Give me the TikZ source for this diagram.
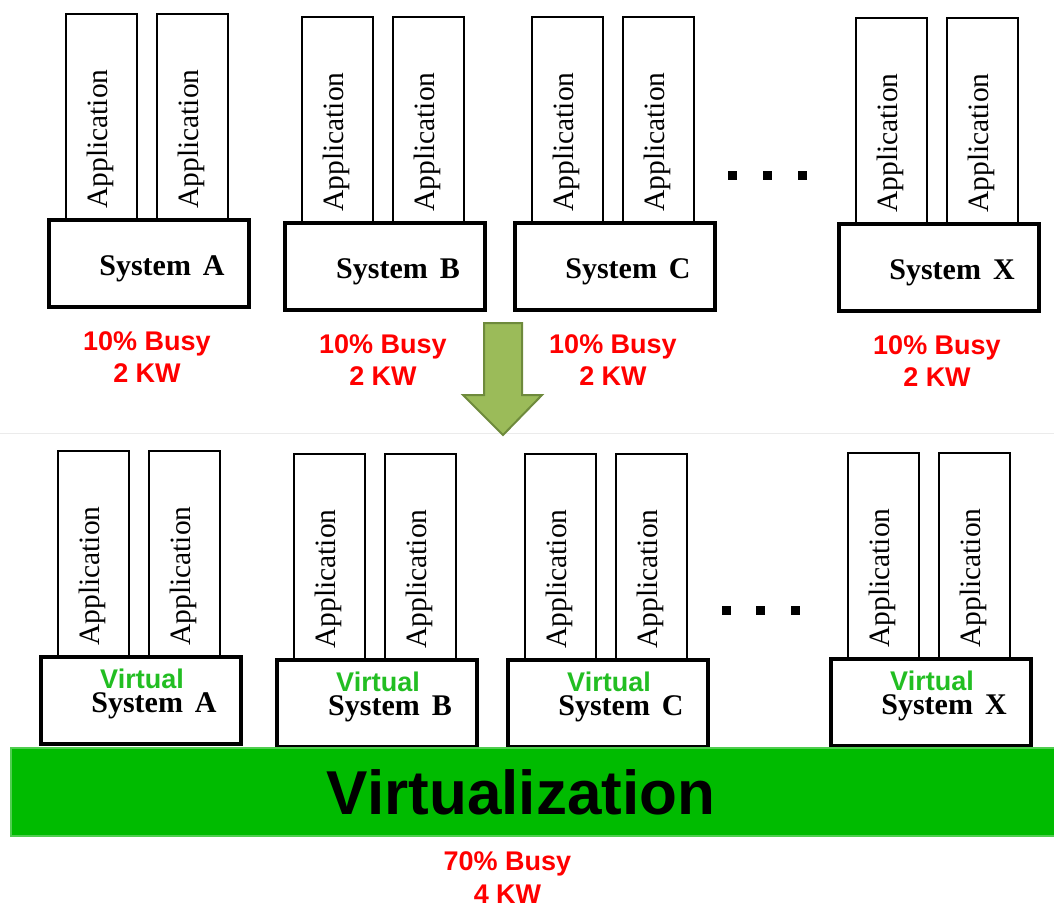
\documentclass[tikz,border=0pt]{standalone}
\usepackage{fontspec}
\setmainfont{Liberation Serif}
\setsansfont{Liberation Sans}
\usetikzlibrary{positioning}

\definecolor{busyred}{RGB}{255,0,0}
\definecolor{virtgreen}{RGB}{34,190,34}
\definecolor{barfill}{RGB}{0,187,0}
\definecolor{barline}{RGB}{80,205,80}
\definecolor{arrowfill}{RGB}{155,187,89}
\definecolor{arrowline}{RGB}{110,138,60}

\newcommand{\sysname}[1]{System\hskip 12pt #1}

\tikzset{
  sysbox/.style={draw, line width=3.5pt, minimum width=200pt, minimum height=87pt, inner sep=0pt, outer sep=0pt, anchor=north west},
  appbox/.style={draw, line width=2.2pt, minimum width=71pt, minimum height=206pt, inner sep=0pt, outer sep=0pt},
  apptext/.style={rotate=90, font=\fontsize{29.5}{32}\selectfont},
  systext/.style={anchor=base, inner sep=0pt, font=\bfseries\fontsize{30}{34}\selectfont},
  virtword/.style={anchor=base, inner sep=0pt, text=virtgreen, font=\sffamily\bfseries\fontsize{27}{30}\selectfont},
  busytext/.style={anchor=north, align=center, inner sep=0pt, text=busyred, font=\sffamily\bfseries\fontsize{27}{32}\selectfont},
}

\begin{document}
\begin{tikzpicture}[x=1pt, y=-1pt]
\useasboundingbox (0,0) rectangle (1054,906);

% physical servers
\foreach \s/\bx/\by in {A/49/220, B/285/223, C/515/223, X/839/224} {
  \node[sysbox] (sys\s) at (\bx,\by) {};
  \node[appbox, above right=0pt and 17pt of sys\s.north west] (app\s1) {};
  \node[appbox, above right=0pt and 108pt of sys\s.north west] (app\s2) {};
  \node[apptext] (apptxt\s1) at ([xshift=-1pt,yshift=-22pt]app\s1.center) {Application};
  \node[apptext] (apptxt\s2) at ([xshift=-1pt,yshift=-22pt]app\s2.center) {Application};
  \node[systext] (lbl\s) at ([xshift=13pt,yshift=-11.5pt]sys\s.center) {\sysname{\s}};
  \node[busytext] (load\s) at ([xshift=-2pt,yshift=-24pt]sys\s.south) {10\% Busy\\2 KW};
}
\foreach \x in {732,767,802}
  \fill (\x-4.5,170.5) rectangle ++(9,9);

% separator and arrow
\draw[black!8, line width=1pt] (0,433) -- (1054,433);
\draw[draw=arrowline, fill=arrowfill, line width=2pt] (484,323) -- (522,323) -- (522,395) -- (542,395)
  -- (503,435) -- (463,395) -- (484,395) -- cycle;

% virtual servers
\foreach \s/\bx/\by in {A/41/657, B/277/660, C/508/660, X/831/659} {
  \node[sysbox] (vsys\s) at (\bx,\by) {};
  \node[appbox, above right=0pt and 17pt of vsys\s.north west] (vapp\s1) {};
  \node[appbox, above right=0pt and 108pt of vsys\s.north west] (vapp\s2) {};
  \node[apptext] (vapptxt\s1) at ([xshift=-1pt,yshift=-22pt]vapp\s1.center) {Application};
  \node[apptext] (vapptxt\s2) at ([xshift=-1pt,yshift=-22pt]vapp\s2.center) {Application};
  \node[virtword] (virt\s) at ([xshift=1pt,yshift=12.5pt]vsys\s.center) {Virtual};
  \node[systext] (vlbl\s) at ([xshift=13pt,yshift=-12pt]vsys\s.center) {\sysname{\s}};
}
\foreach \x in {726,760,795}
  \fill (\x-4.5,605.5) rectangle ++(9,9);

% virtualization layer
\node[draw=barline, fill=barfill, line width=2pt, minimum width=1045pt, minimum height=88pt,
  inner sep=0pt, outer sep=0pt, anchor=north west] (virtbar) at (11,748) {};
\node[font=\sffamily\bfseries\fontsize{62}{70}\selectfont] (virtlbl) at ([xshift=-12.5pt]virtbar.center) {Virtualization};
\node[busytext, font=\sffamily\bfseries\fontsize{27}{33}\selectfont] (loadall) at ([xshift=-26pt,yshift=-15pt]virtbar.south) {70\% Busy\\4 KW};
\end{tikzpicture}
\end{document}
